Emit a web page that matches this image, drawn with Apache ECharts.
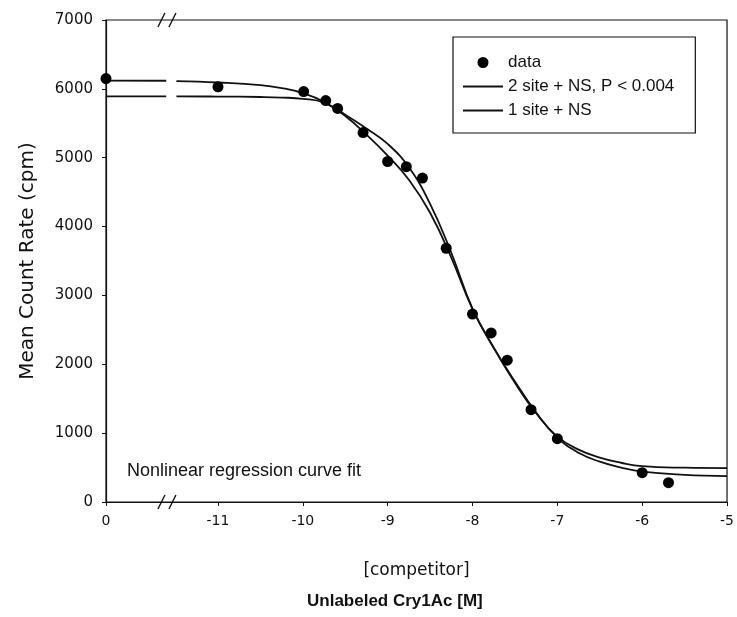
<!DOCTYPE html>
<html>
<head>
<meta charset="utf-8">
<script src="https://cdn.jsdelivr.net/npm/echarts@6/dist/echarts.min.js"></script>
<style>
  html, body { margin: 0; padding: 0; background: #fff; }
  #chart { width: 737px; height: 617px; }
</style>
</head>
<body>
<div id="chart"></div>
<script>
// Axis position used for the zero-concentration point (left of the axis break)
const ZERO_POS = -12.32;
const BREAK_X = -11.59;

// x tick positions (log10 [M]) and their labels
const xTickValues = [ZERO_POS, -11, -10, -9, -8, -7, -6, -5];
const xTickLabels = ['0', '-11', '-10', '-9', '-8', '-7', '-6', '-5'];

// Measured data points
const dataLogConc = [ZERO_POS, -11, -9.99, -9.73, -9.59, -9.29, -9.0, -8.78, -8.59, -8.31, -8.0, -7.78, -7.59, -7.31, -7.0, -6.0, -5.69];
const dataCounts  = [6150, 6030, 5960, 5830, 5715, 5365, 4945, 4870, 4705, 3685, 2730, 2455, 2060, 1340, 920, 425, 280];

// Fitted curves (left of the break and right of it)
const fitXLeft  = [ZERO_POS, -11.61];
const fitXRight = [-11.49, -11, -10.5, -10.25, -10, -9.75, -9.5, -9.25, -9, -8.75, -8.5, -8.25, -8, -7.75, -7.5, -7.25, -7, -6.75, -6.5, -6.25, -6, -5.5, -5];

const twoSiteLeft  = [6120, 6118];
const twoSiteRight = [6112, 6092, 6055, 6012, 5938, 5810, 5605, 5335, 5030, 4680, 4200, 3550, 2800, 2240, 1750, 1300, 935, 715, 585, 500, 440, 395, 377];

const oneSiteLeft  = [5890, 5890];
const oneSiteRight = [5890, 5888, 5882, 5874, 5855, 5800, 5625, 5425, 5200, 4860, 4330, 3620, 2810, 2240, 1730, 1290, 950, 760, 645, 570, 520, 498, 493];

const yMin = 0, yMax = 7000, yStep = 1000;

function buildCurve(xl, yl, xr, yr) {
  const out = xl.map((x, i) => [x, yl[i]]);
  out.push([BREAK_X, '-']);
  xr.forEach((x, i) => out.push([x, yr[i]]));
  return out;
}

const FONT = 'DejaVu Sans';
const LINE_ICON = 'path://M0,0 L40,0 L40,1.8 L0,1.8 Z';
const chart = echarts.init(document.getElementById('chart'), null, { renderer: 'canvas' });

chart.setOption({
  animation: false,
  backgroundColor: '#ffffff',
  grid: {
    left: 106, right: 8, top: 20, bottom: 115,
    show: true, borderColor: '#111', borderWidth: 1.2, backgroundColor: 'transparent'
  },
  legend: {
    orient: 'vertical',
    left: 453, top: 37,
    padding: [17, 21, 14, 10],
    itemWidth: 40, itemHeight: 11, itemGap: 7,
    borderColor: '#111', borderWidth: 1.2,
    textStyle: { fontFamily: 'Liberation Sans', fontSize: 17, color: '#111' },
    data: [
      { name: 'data', icon: 'circle' },
      { name: '2 site + NS, P < 0.004', icon: LINE_ICON },
      { name: '1 site + NS', icon: LINE_ICON }
    ]
  },
  xAxis: {
    type: 'value',
    min: ZERO_POS, max: -5,
    name: '[competitor]',
    nameLocation: 'middle',
    nameGap: 60,
    nameTextStyle: { fontFamily: FONT, fontSize: 17, color: '#111' },
    axisLine: { show: true, lineStyle: { color: '#111', width: 1.2 } },
    axisTick: { show: true, length: 4, inside: false, customValues: xTickValues, lineStyle: { color: '#111' } },
    axisLabel: {
      customValues: xTickValues,
      margin: 12,
      fontFamily: FONT, fontSize: 14, color: '#111',
      formatter: function (v) {
        const i = xTickValues.findIndex(t => Math.abs(t - v) < 1e-6);
        return i >= 0 ? xTickLabels[i] : '';
      }
    },
    splitLine: { show: false }
  },
  yAxis: {
    type: 'value',
    min: yMin, max: yMax, interval: yStep,
    name: 'Mean Count Rate (cpm)',
    nameLocation: 'middle',
    nameGap: 68,
    nameTextStyle: { fontFamily: FONT, fontSize: 20, color: '#111' },
    axisLine: { show: true, lineStyle: { color: '#111', width: 1.2 } },
    axisTick: { show: true, length: 4, inside: false, lineStyle: { color: '#111' } },
    axisLabel: {
      margin: 13, fontFamily: FONT, fontSize: 15, color: '#111',
      formatter: function (v) { return String(v); }
    },
    splitLine: { show: false }
  },
  title: [
    {
      text: 'Unlabeled Cry1Ac [M]',
      left: 307, top: 593,
      padding: 0,
      textStyle: { fontFamily: 'Liberation Sans', fontSize: 17, fontWeight: 'bold', color: '#111' }
    }
  ],
  graphic: [
    {
      type: 'text',
      left: 127, top: 462,
      style: { text: 'Nonlinear regression curve fit', font: '18px "Liberation Sans"', fill: '#111' }
    }
  ],
  series: [
    {
      name: 'data',
      type: 'scatter',
      symbol: 'circle',
      symbolSize: 11,
      itemStyle: { color: '#000', opacity: 1 },
      data: dataLogConc.map((x, i) => [x, dataCounts[i]]),
      z: 5
    },
    {
      name: '2 site + NS, P < 0.004',
      type: 'line',
      symbol: 'none',
      smooth: 0.45,
      connectNulls: false,
      lineStyle: { color: '#111', width: 1.8 },
      itemStyle: { color: '#111' },
      data: buildCurve(fitXLeft, twoSiteLeft, fitXRight, twoSiteRight)
    },
    {
      name: '1 site + NS',
      type: 'line',
      symbol: 'none',
      smooth: 0.45,
      connectNulls: false,
      lineStyle: { color: '#111', width: 1.8 },
      itemStyle: { color: '#111' },
      data: buildCurve(fitXLeft, oneSiteLeft, fitXRight, oneSiteRight)
    },
    {
      name: 'axis break',
      type: 'custom',
      clip: false,
      silent: true,
      z: 10,
      data: [[BREAK_X, yMin], [BREAK_X, yMax]],
      renderItem: function (params, api) {
        const p = api.coord([api.value(0), api.value(1)]);
        const st = { stroke: '#111', lineWidth: 1.4 };
        return {
          type: 'group',
          children: [
            { type: 'line', shape: { x1: p[0] - 10, y1: p[1] + 7, x2: p[0] - 3, y2: p[1] - 7 }, style: st },
            { type: 'line', shape: { x1: p[0] + 1, y1: p[1] + 7, x2: p[0] + 8, y2: p[1] - 7 }, style: st }
          ]
        };
      }
    }
  ]
});
</script>
</body>
</html>
